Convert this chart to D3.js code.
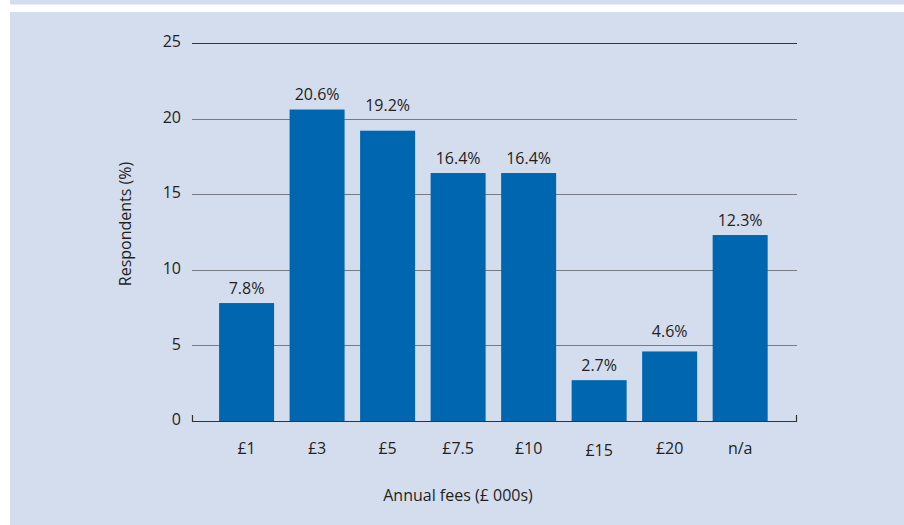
<!DOCTYPE html>
<html>
<head>
<meta charset="utf-8">
<script src="https://cdn.jsdelivr.net/npm/d3@7"></script>
<style>
  body { margin: 0; background: #fff; }
  svg text { font-family: "Open Sans", "Noto Sans", sans-serif; fill: #231f20; }
</style>
</head>
<body>
<svg id="chart" width="904" height="525"></svg>
<script>
// chart values
const fees = ["£1", "£3", "£5", "£7.5", "£10", "£15", "£20", "n/a"];
const share = [7.8, 20.6, 19.2, 16.4, 16.4, 2.7, 4.6, 12.3];
const yTicks = [0, 5, 10, 15, 20, 25];

const panelCol = "#d4ddee";
const barCol = "#0066b0";

var svg = d3.select("#chart");

// background strips
svg.append("rect").attr("x", 10).attr("y", 0).attr("width", 894).attr("height", 4.5)
    .attr("fill", panelCol);
svg.append("rect").attr("x", 10).attr("y", 12).attr("width", 894).attr("height", 513)
    .attr("fill", panelCol);

// plot area edges (avoid window.top)
var pLeft = 192, pRight = 797, pTop = 43, pBottom = 421;

var y = d3.scaleLinear().domain([0, 25]).range([pBottom, pTop]);
var x = d3.scaleBand().domain(fees).range([pLeft, pRight])
    .paddingInner(0.22).paddingOuter(0.4).align(0.48);

// gridlines (top one is darker)
svg.append("g").selectAll("line")
    .data(yTicks.filter(t => t > 0))
    .join("line")
    .attr("x1", pLeft).attr("x2", pRight)
    .attr("y1", d => Math.round(y(d)) + 0.5).attr("y2", d => Math.round(y(d)) + 0.5)
    .attr("stroke", d => d === 25 ? "#333" : "#767a82").attr("stroke-width", 1.2);

// y tick labels
svg.append("g").selectAll("text")
    .data(yTicks)
    .join("text")
    .attr("x", 181).attr("y", d => y(d) - 1.5)
    .attr("dy", "0.35em")
    .attr("text-anchor", "end")
    .style("font-size", "16px")
    .text(d => d);

// bars
svg.append("g").selectAll("rect")
    .data(share)
    .join("rect")
    .attr("x", (d, i) => x(fees[i]))
    .attr("width", x.bandwidth())
    .attr("y", d => y(d))
    .attr("height", d => y(0) - y(d))
    .attr("fill", barCol);

// value label baseline; lift it above a gridline it would sit on
function labelY(v) {
    var b = y(v) - 9.5;
    yTicks.forEach(function(t) {
        var g = y(t);
        if (t > 0 && g > b - 14 && g < b + 4) b = g - 8;
    });
    return b;
}

svg.append("g").selectAll("text")
    .data(share)
    .join("text")
    .attr("x", (d, i) => x(fees[i]) + x.bandwidth() / 2)
    .attr("y", d => labelY(d))
    .attr("text-anchor", "middle")
    .style("font-size", "16px")
    .text(d => d.toFixed(1) + "%");

// base axis with end ticks
svg.append("path")
    .attr("d", `M${pLeft + 0.5},${pBottom - 6}V${pBottom + 0.5}H${pRight - 0.5}V${pBottom - 6}`)
    .attr("fill", "none").attr("stroke", "#333").attr("stroke-width", 1.2);

// x labels
svg.append("g").selectAll("text")
    .data(fees)
    .join("text")
    .attr("x", d => x(d) + x.bandwidth() / 2)
    .attr("y", d => d === "£15" ? 456 : 454)
    .attr("text-anchor", "middle")
    .style("font-size", "16px")
    .text(d => d);

// axis titles
svg.append("text")
    .attr("x", 458).attr("y", 501)
    .attr("text-anchor", "middle")
    .style("font-size", "16px")
    .text("Annual fees (£ 000s)");

svg.append("text")
    .attr("transform", "translate(131,224) rotate(-90)")
    .attr("text-anchor", "middle")
    .style("font-size", "16px")
    .text("Respondents (%)");
</script>
</body>
</html>
